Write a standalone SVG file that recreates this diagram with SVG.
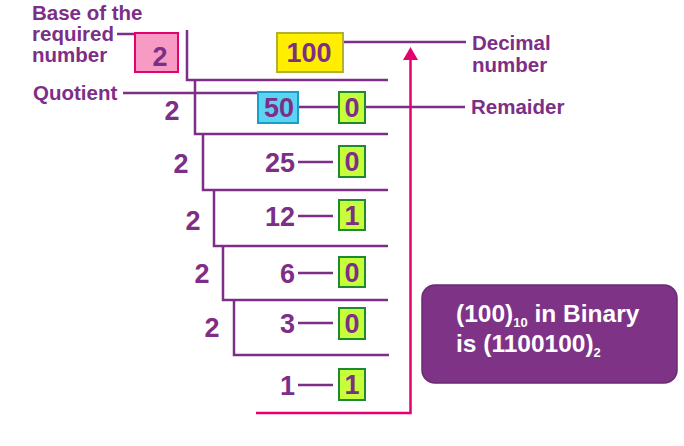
<svg xmlns="http://www.w3.org/2000/svg" width="684" height="446" viewBox="0 0 684 446">
<style>
text{font-family:"Liberation Sans",Arial,sans-serif;font-weight:bold;fill:#7d2e87}
.lbl{font-size:20.5px}
.num{font-size:27px}
.pl{stroke:#7d2e87;stroke-width:2.5;fill:none}
.pk{stroke:#e5006f;stroke-width:2.5;fill:none}
.g{fill:#c6ff3a;stroke:#1e8a30;stroke-width:2}
.res{font-size:24.5px;fill:#ffffff}
.sub{font-size:13px;fill:#ffffff}
</style>
<rect width="684" height="446" fill="#ffffff"/>
<g id="connectors">
<polyline class="pl" points="187,30 187,80 388,80"/>
<polyline class="pl" points="195,80 195,134 388,134"/>
<polyline class="pl" points="203,134 203,190 388,190"/>
<polyline class="pl" points="214,190 214,246 388,246"/>
<polyline class="pl" points="223,246 223,300 388,300"/>
<polyline class="pl" points="234,300 234,355 389,355"/>
<line class="pl" x1="117" y1="34" x2="135" y2="34"/>
<line class="pl" x1="123" y1="93" x2="258" y2="93"/>
<line class="pl" x1="343" y1="42" x2="466" y2="42"/>
<line class="pl" x1="298" y1="107" x2="339" y2="107"/>
<line class="pl" x1="365" y1="107" x2="465" y2="107"/>
<line class="pl" x1="298" y1="162" x2="333" y2="162"/>
<line class="pl" x1="298" y1="216" x2="333" y2="216"/>
<line class="pl" x1="298" y1="273" x2="333" y2="273"/>
<line class="pl" x1="298" y1="323" x2="333" y2="323"/>
<line class="pl" x1="298" y1="385" x2="333" y2="385"/>
<polyline class="pk" points="256,413 410.5,413 410.5,58"/>
<polygon points="410.5,47 403,60 418,60" fill="#e5006f"/>
</g>
<g id="base-label">
<text class="lbl" x="32" y="20">Base of the</text>
<text class="lbl" x="32" y="41">required</text>
<text class="lbl" x="32" y="62">number</text>
</g>
<g id="base-box">
<rect x="135" y="33" width="43" height="39" fill="#f79ac4" stroke="#e5006f" stroke-width="2"/>
<text class="num" x="160" y="66" text-anchor="middle">2</text>
</g>
<g id="quotient-label"><text class="lbl" x="33" y="100">Quotient</text></g>
<g id="decimal-box">
<rect x="277" y="33" width="66" height="39" fill="#ffee00" stroke="#b3b22c" stroke-width="2"/>
<text class="num" x="309" y="62" text-anchor="middle">100</text>
</g>
<g id="decimal-label">
<text class="lbl" x="472" y="50">Decimal</text>
<text class="lbl" x="472" y="72">number</text>
</g>
<g id="remainder-label"><text class="lbl" x="471" y="114">Remaider</text></g>
<g id="row1">
<text class="num" x="172" y="120" text-anchor="middle">2</text>
<rect x="258" y="92" width="40" height="31" fill="#5bd4f2" stroke="#1a9ec8" stroke-width="2"/>
<text class="num" x="279" y="117" text-anchor="middle">50</text>
<rect class="g" x="339" y="92" width="26" height="31"/>
<text class="num" x="352" y="117" text-anchor="middle">0</text>
</g>
<g id="row2">
<text class="num" x="181" y="173" text-anchor="middle">2</text>
<text class="num" x="295" y="172" text-anchor="end">25</text>
<rect class="g" x="339" y="146" width="26" height="31"/>
<text class="num" x="352" y="171" text-anchor="middle">0</text>
</g>
<g id="row3">
<text class="num" x="193" y="230" text-anchor="middle">2</text>
<text class="num" x="295" y="226" text-anchor="end">12</text>
<rect class="g" x="339" y="200" width="26" height="30"/>
<text class="num" x="352" y="225" text-anchor="middle">1</text>
</g>
<g id="row4">
<text class="num" x="202" y="283" text-anchor="middle">2</text>
<text class="num" x="295" y="283" text-anchor="end">6</text>
<rect class="g" x="339" y="257" width="26" height="30"/>
<text class="num" x="352" y="282" text-anchor="middle">0</text>
</g>
<g id="row5">
<text class="num" x="212" y="337" text-anchor="middle">2</text>
<text class="num" x="295" y="333" text-anchor="end">3</text>
<rect class="g" x="339" y="308" width="26" height="31"/>
<text class="num" x="352" y="333" text-anchor="middle">0</text>
</g>
<g id="row6">
<text class="num" x="295" y="395" text-anchor="end">1</text>
<rect class="g" x="339" y="369" width="26" height="31"/>
<text class="num" x="352" y="394" text-anchor="middle">1</text>
</g>
<g id="result">
<rect x="422" y="285" width="255" height="98" rx="13" fill="#7f3387" stroke="#6a2a72" stroke-width="1.5"/>
<text class="res" x="456" y="322">(100)<tspan class="sub" dy="5">10</tspan><tspan dy="-5"> in Binary</tspan></text>
<text class="res" x="456" y="352">is (1100100)<tspan class="sub" dy="5">2</tspan></text>
</g>
</svg>
